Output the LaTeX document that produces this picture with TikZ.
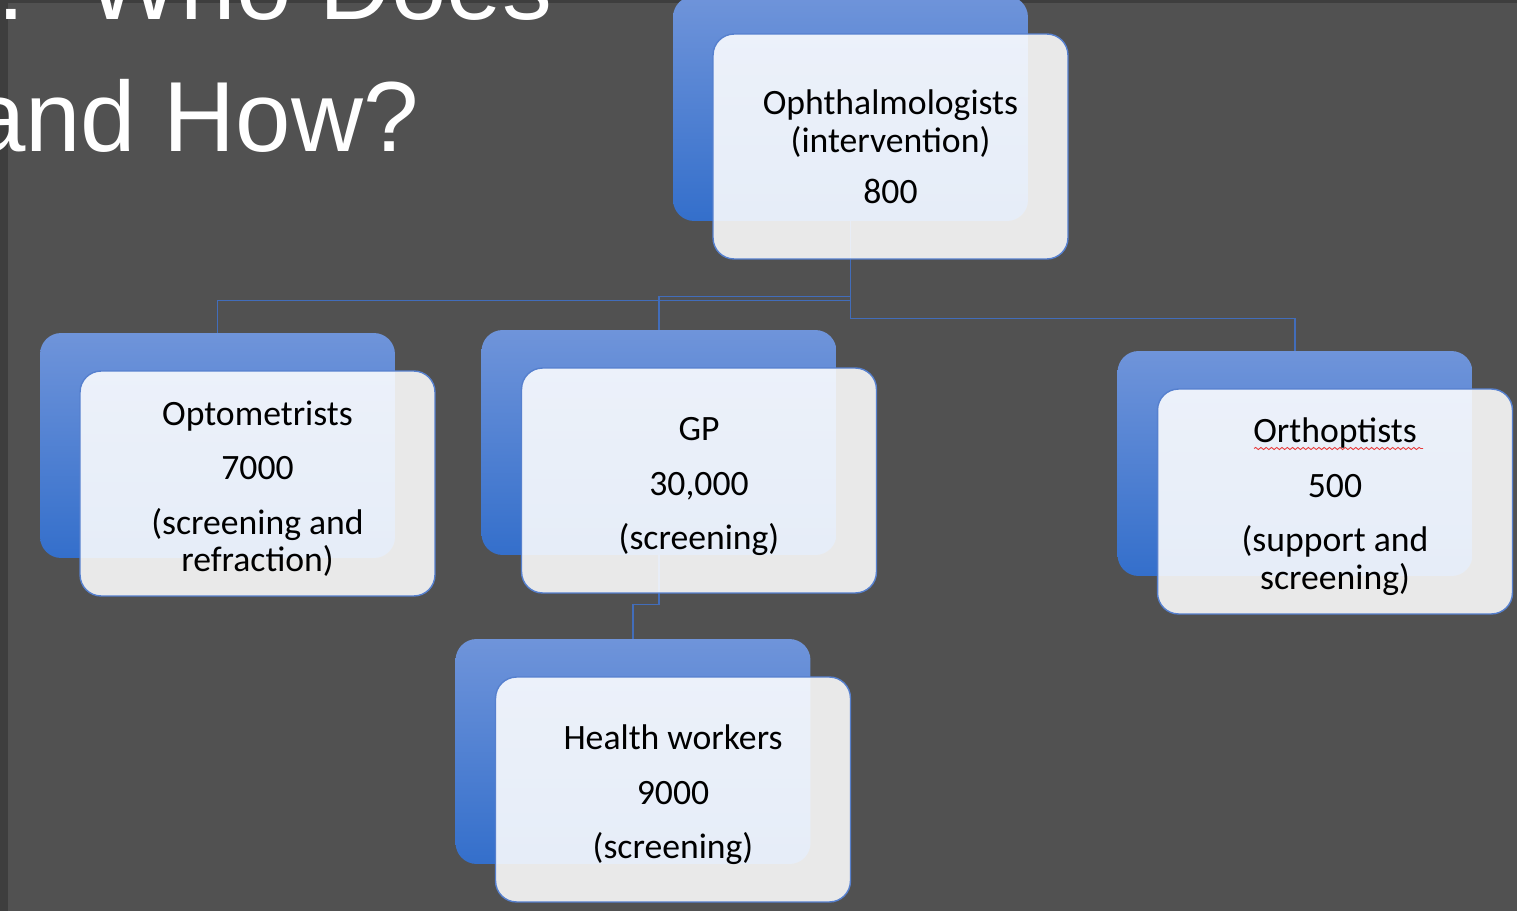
\documentclass[tikz,border=0pt]{standalone}
\usepackage{fontspec}
\setmainfont{Carlito}
\newfontfamily\titlefont{Liberation Sans}
\usetikzlibrary{decorations.pathmorphing}

\definecolor{slidegrey}{RGB}{81,81,81}
\definecolor{edgegrey}{RGB}{62,62,62}
\definecolor{backtop}{RGB}{111,148,218}
\definecolor{backbot}{RGB}{52,111,203}
\definecolor{linkblue}{RGB}{66,109,186}
\definecolor{frontedge}{RGB}{86,128,206}
\definecolor{spellred}{RGB}{232,58,58}

\newcommand\boxfont{\fontsize{20.3}{21.5}\selectfont}
\newcommand\bigtitle{\titlefont\fontsize{56.7}{68}\selectfont}
\newcommand\cardtop{\rule{0pt}{20pt}}

\tikzset{
  title/.style={font=\bigtitle, text=white, inner sep=0pt},
  back/.style={rectangle, rounded corners=12pt, minimum width=7.1cm,
    minimum height=4.5cm, top color=backtop, bottom color=backbot},
  front/.style={rectangle, rounded corners=12pt, minimum width=7.1cm,
    minimum height=4.5cm, fill=white, fill opacity=0.88, text opacity=1,
    draw=frontedge, line width=0.8pt, align=center, font=\boxfont},
  link/.style={draw=linkblue, line width=0.85pt},
}

\begin{document}
\begin{tikzpicture}[x=0.02cm, y=-0.02cm]
  \useasboundingbox (0,0) rectangle (1517,911);
  \clip (0,0) rectangle (1517,911);
  \fill[slidegrey] (0,0) rectangle (1517,911);
  \fill[edgegrey] (0,0) rectangle (8,911);
  \fill[edgegrey] (0,0) rectangle (1517,3);

  % slide title, cut by the frame
  \node[title, anchor=base west] (title1) at (-3,20) {\makebox[51pt][l]{:}Who Does};
  \node[title, anchor=base east] (title2) at (419,152) {and How?};

  % blue cards behind
  \node[back] (topB) at (850.5,108.5) {};
  \node[back] (optB) at (217.5,445.5) {};
  \node[back] (gpB) at (659,442.5) {};
  \node[back] (orthB) at (1295,463.5) {};
  \node[back] (hwB) at (633,751.5) {};

  \draw[link] (topB.south) -- ++(0,79) -| (optB.north);
  \draw[link] (topB.south) -- ++(0,75) -| (gpB.north);
  \draw[link] (topB.south) -- ++(0,97) -| (orthB.north);
  \draw[link] (gpB.south) -- ++(0,49) -| (hwB.north);

  % text cards in front
  \node[front] (topF) at ([shift={(40,38)}]topB.center) {Ophthalmologists\\(intervention)\\[7.5pt]800};
  \node[front] (optF) at ([shift={(40,38)}]optB.center) {\cardtop Optometrists\\[9.5pt]7000\\[9.5pt](screening and\\refraction)};
  \node[front] (gpF) at ([shift={(40,38)}]gpB.center) {\cardtop GP\\[9.5pt]30,000\\[9.5pt](screening)};
  \node[front] (orthF) at ([shift={(40,38)}]orthB.center) {\cardtop Orthoptists\\[9.5pt]500\\[9.5pt](support and\\screening)};
  \node[front] (hwF) at ([shift={(40,38)}]hwB.center) {\cardtop Health workers\\[9.5pt]9000\\[9.5pt](screening)};

  \draw[spellred, line width=0.5pt, decorate, decoration={snake, amplitude=0.6pt, segment length=3pt}]
    ([shift={(-81,-53)}]orthF.center) -- ([shift={(88,-53)}]orthF.center);
\end{tikzpicture}
\end{document}
